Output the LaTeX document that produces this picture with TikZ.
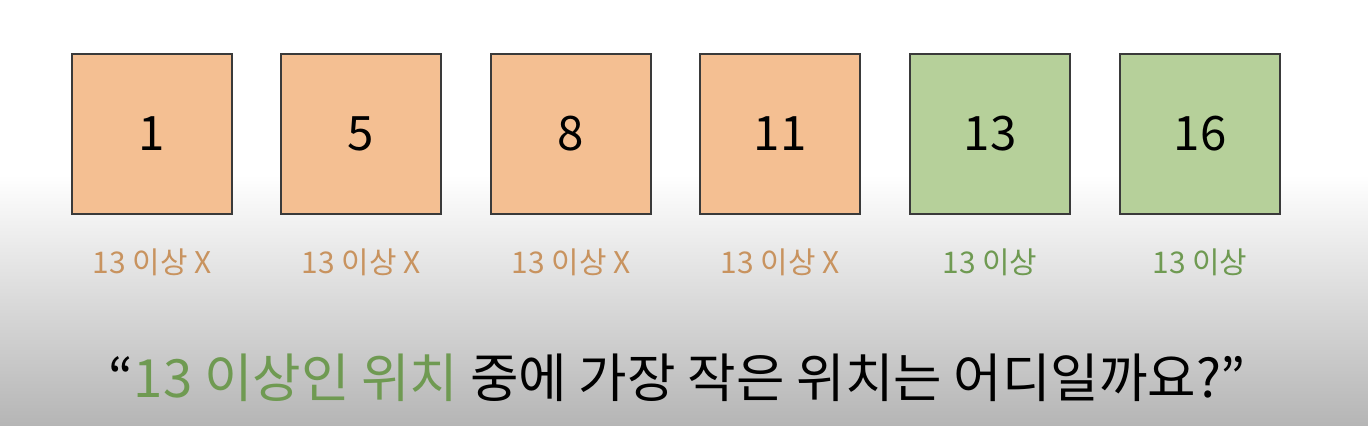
\documentclass[tikz,border=0pt]{standalone}
\usepackage{fontspec}
\setmainfont{Noto Sans CJK KR}
\usepackage{tikz}
\usetikzlibrary{positioning}
\definecolor{lowfill}{HTML}{F4BF92}
\definecolor{highfill}{HTML}{B6D09A}
\definecolor{lowtext}{HTML}{C8935F}
\definecolor{hightext}{HTML}{6F9A52}
\definecolor{edge}{HTML}{3A3A3A}

\begin{document}
\begin{tikzpicture}[
    cell/.style={draw=edge,line width=1pt,minimum size=3.2cm,inner sep=0pt,font=\fontsize{27}{30}\selectfont},
    low/.style={cell,fill=lowfill},
    high/.style={cell,fill=highfill},
    tag/.style={font=\fontsize{17}{20}\selectfont}
  ]
    % background
    \fill[white] (0,0) rectangle (27.36,-3.5);
    \shade[top color=white,bottom color=black!29] (0,-3.5) rectangle (27.36,-8.52);
    \useasboundingbox (0,0) rectangle (27.36,-8.52);

    \path
    (3.04,-2.68) node[low] (c1) {1}
    (7.22,-2.68) node[low] (c5) {5}
    (11.42,-2.68) node[low] (c8) {8}
    (15.60,-2.68) node[low] (c11) {11}
    (19.80,-2.68) node[high] (c13) {13}
    (24.00,-2.68) node[high] (c16) {16}
    ;

    \node[tag,lowtext,below=0.55cm of c1] (t1) {13 이상 X};
    \node[tag,lowtext,below=0.55cm of c5] (t5) {13 이상 X};
    \node[tag,lowtext,below=0.55cm of c8] (t8) {13 이상 X};
    \node[tag,lowtext,below=0.55cm of c11] (t11) {13 이상 X};
    \node[tag,hightext,below=0.55cm of c13] (t13) {13 이상};
    \node[tag,hightext,below=0.55cm of c16] (t16) {13 이상};

    \node[font=\fontsize{30}{34}\selectfont] (ask) at (13.54,-7.56)
      {“\textcolor{hightext}{13 이상인 위치} 중에 가장 작은 위치는 어디일까요?”};
  \end{tikzpicture}
\end{document}
